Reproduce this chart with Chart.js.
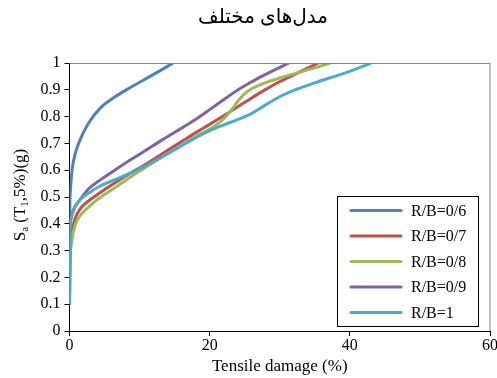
<!DOCTYPE html>
<html>
<head>
<meta charset="utf-8">
<script src="https://cdn.jsdelivr.net/npm/chart.js@4"></script>
<style>
  html, body { margin: 0; padding: 0; background: #fff; overflow: hidden; }
  #wrap { width: 497px; height: 378px; overflow: hidden; }
</style>
</head>
<body>
<div id="wrap"><canvas id="chart" width="520" height="378"></canvas></div>
<script>
// Data: [tensile damage %, Sa (g)]
const rb06 = [[0, 0.1], [0.03, 0.42], [0.12, 0.52], [0.36, 0.6], [0.8, 0.66], [1.3, 0.7], [2.7, 0.775],
  [4.6, 0.837], [6.5, 0.874], [8.5, 0.906], [10.4, 0.934], [12.5, 0.965], [14.8, 1.0]];
const rb07 = [[0, 0.1], [0.08, 0.28], [0.25, 0.35], [0.5, 0.39], [0.8, 0.42], [1.5, 0.455], [2.7, 0.485],
  [4.3, 0.515], [6.5, 0.553], [8.6, 0.588], [10.4, 0.615], [13.4, 0.664], [16, 0.707], [18.2, 0.743],
  [20, 0.771], [22.9, 0.818], [25.3, 0.858], [27.7, 0.897], [30.1, 0.932], [32.5, 0.962], [35.5, 1.0]];
const rb08 = [[0, 0.1], [0.1, 0.26], [0.3, 0.33], [0.8, 0.395], [1.5, 0.43], [2.7, 0.462], [4.3, 0.497],
  [6.5, 0.535], [8.6, 0.573], [10.4, 0.603], [13.4, 0.653], [16, 0.694], [18.2, 0.728], [20, 0.753],
  [21, 0.77], [22, 0.792], [22.9, 0.818], [23.9, 0.853], [24.8, 0.881], [25.8, 0.901], [27.7, 0.924],
  [30.1, 0.945], [32.5, 0.963], [35, 0.982], [37.2, 1.0]];
const rb09 = [[0, 0.1], [0.05, 0.36], [0.2, 0.42], [0.5, 0.45], [1.5, 0.49], [2.7, 0.53], [4.3, 0.562],
  [6.5, 0.601], [8.6, 0.637], [10.4, 0.666], [13.4, 0.716], [16, 0.757], [18.2, 0.793], [20, 0.826],
  [21.5, 0.854], [22.9, 0.88], [24.4, 0.906], [25.8, 0.927], [27.7, 0.954], [31.3, 1.0]];
const rb10 = [[0, 0.1], [0.04, 0.36], [0.15, 0.41], [0.4, 0.435], [0.8, 0.462], [1.5, 0.49], [2.7, 0.514],
  [4.3, 0.54], [6.5, 0.565], [8.6, 0.588], [10.4, 0.61], [13.4, 0.652], [16, 0.691], [18.2, 0.724],
  [20, 0.748], [22.9, 0.778], [25.8, 0.809], [27.7, 0.839], [30.1, 0.876], [32.5, 0.903], [35, 0.926],
  [37.2, 0.945], [40, 0.969], [43, 1.0]];

const seriesNames = ['R/B=0/6', 'R/B=0/7', 'R/B=0/8', 'R/B=0/9', 'R/B=1'];
const seriesData = [rb06, rb07, rb08, rb09, rb10];
const seriesColors = ['#4F81BD', '#C0504D', '#9BBB59', '#8064A2', '#4BACC6'];

const xTicks = [0, 20, 40, 60];
const yTicks = ['0', '0.1', '0.2', '0.3', '0.4', '0.5', '0.6', '0.7', '0.8', '0.9', '1'];

const chartTitle = 'مدل‌های مختلف';
const xTitle = 'Tensile damage (%)';

const SERIF = '"Liberation Serif", "Times New Roman", serif';

// Title, y axis title (with subscripts), grey frame and boxed legend
const extras = {
  id: 'extras',
  afterDraw(chart) {
    const ctx = chart.ctx;
    const a = chart.chartArea;
    ctx.save();

    // grey top and right frame
    ctx.strokeStyle = '#868686';
    ctx.lineWidth = 1;
    ctx.beginPath();
    ctx.moveTo(a.left, a.top + 0.5);
    ctx.lineTo(a.right, a.top + 0.5);
    ctx.moveTo(a.right, a.top);
    ctx.lineTo(a.right, a.bottom);
    ctx.stroke();

    // chart title
    ctx.fillStyle = '#000';
    ctx.font = '20px ' + SERIF + ', "DejaVu Sans"';
    ctx.textAlign = 'center';
    ctx.textBaseline = 'middle';
    ctx.fillText(chartTitle, 263, 18);

    // y title: S_a (T_1,5%)(g)
    ctx.translate(19, 195);
    ctx.rotate(-Math.PI / 2);
    const parts = [['S', false], ['a', true], [' (T', false], ['1', true], [',5%)(g)', false]];
    const big = '17px ' + SERIF, small = '11px ' + SERIF;
    let total = 0;
    parts.forEach(p => { ctx.font = p[1] ? small : big; total += ctx.measureText(p[0]).width; });
    let x = -total / 2;
    ctx.textAlign = 'left';
    ctx.textBaseline = 'alphabetic';
    parts.forEach(p => {
      ctx.font = p[1] ? small : big;
      ctx.fillText(p[0], x, p[1] ? 8.5 : 5.5);
      x += ctx.measureText(p[0]).width;
    });
    ctx.setTransform(1, 0, 0, 1, 0, 0);

    // legend box
    ctx.strokeStyle = '#000';
    ctx.lineWidth = 1;
    ctx.strokeRect(337.5, 196.5, 141, 130);
    ctx.font = '16px ' + SERIF;
    ctx.textBaseline = 'middle';
    ctx.textAlign = 'left';
    seriesNames.forEach((name, i) => {
      const y = 210.5 + i * 25.5;
      ctx.strokeStyle = seriesColors[i];
      ctx.lineWidth = 3;
      ctx.lineCap = 'round';
      ctx.beginPath();
      ctx.moveTo(351, y);
      ctx.lineTo(401, y);
      ctx.stroke();
      ctx.fillStyle = '#000';
      ctx.fillText(name, 411, y + 1);
    });
    ctx.restore();
  }
};

const datasets = seriesData.map((pts, i) => ({
  label: seriesNames[i],
  data: pts.map(p => ({ x: p[0], y: p[1] })),
  borderColor: seriesColors[i],
  backgroundColor: seriesColors[i],
  borderWidth: 3,
  pointRadius: 0,
  showLine: true,
  fill: false,
  cubicInterpolationMode: 'monotone',
  order: seriesNames.length - i
}));

new Chart(document.getElementById('chart'), {
  type: 'scatter',
  data: { datasets: datasets },
  options: {
    responsive: false,
    animation: false,
    events: [],
    layout: { padding: { left: 0, top: 63, right: 30, bottom: 0 } },
    plugins: {
      legend: { display: false },
      title: { display: false },
      tooltip: { enabled: false }
    },
    scales: {
      x: {
        type: 'linear',
        min: 0,
        max: 60,
        afterFit(scale) { scale.height = 47; },
        afterBuildTicks(scale) { scale.ticks = xTicks.map(v => ({ value: v })); },
        ticks: {
          color: '#000',
          font: { family: SERIF, size: 16 },
          padding: 0,
          maxRotation: 0,
          autoSkip: false
        },
        grid: { display: true, drawOnChartArea: false, drawTicks: true, tickLength: 5, color: '#000' },
        border: { display: true, color: '#000', width: 1 },
        title: {
          display: true,
          text: xTitle,
          color: '#000',
          font: { family: SERIF, size: 17 },
          padding: { top: 0, bottom: 1 }
        }
      },
      y: {
        type: 'linear',
        min: 0,
        max: 1,
        afterFit(scale) { scale.width = 69.5; },
        afterBuildTicks(scale) { scale.ticks = yTicks.map(t => ({ value: parseFloat(t) })); },
        ticks: {
          color: '#000',
          font: { family: SERIF, size: 16 },
          padding: 4,
          autoSkip: false,
          callback: (v, i) => yTicks[i]
        },
        grid: { display: true, drawOnChartArea: false, drawTicks: true, tickLength: 5, color: '#000' },
        border: { display: true, color: '#000', width: 1 }
      }
    }
  },
  plugins: [extras]
});
</script>
</body>
</html>
